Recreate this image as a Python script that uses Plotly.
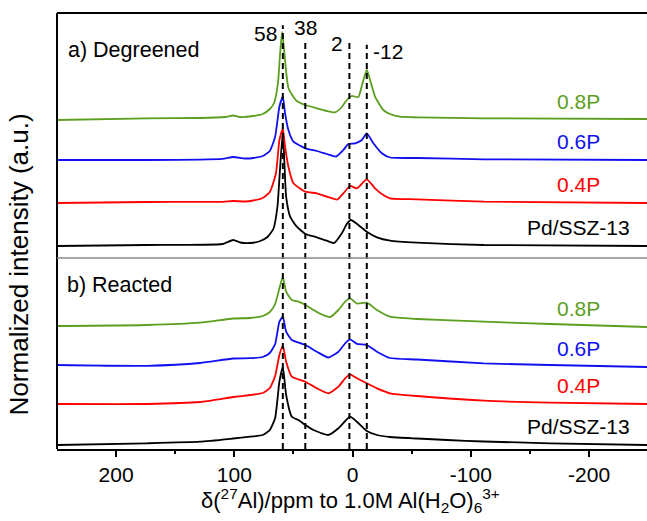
import plotly.graph_objects as go

# ---------------- data (ppm, normalized intensity above each trace baseline) ----------------
samples = ["0.8P", "0.6P", "0.4P", "Pd/SSZ-13"]
colors = ["#5c9e1e", "#1010f0", "#ff0000", "#000000"]

# a) Degreened
green_a_ppm = [250, 174, 129, 108, 101, 95, 84, 76, 70, 66.4, 63.1, 61.4, 59.6, 57.9, 56.2, 54.3, 51.1, 47.2, 39.9,
               30.3, 21.8, 14.8, 9.1, 4.9, 0.7, -4.9, -8.0, -12, -14.8, -19, -26, -31.7, -40, -54.5, -111, -249]
green_a_int = [0, 0.017, 0.02, 0.03, 0.045, 0.03, 0.04, 0.06, 0.11, 0.17, 0.37, 0.65, 0.88, 0.70, 0.48, 0.32, 0.25,
               0.19, 0.15, 0.117, 0.09, 0.077, 0.13, 0.2, 0.24, 0.23, 0.35, 0.5, 0.4, 0.233, 0.10, 0.06, 0.033, 0.027,
               0.017, 0.01]
blue_a_ppm = [250, 174, 110, 101, 91, 84, 76, 70, 65.5, 61.9, 59, 57.1, 54.3, 50, 39.9, 30.3, 21.8, 13.9, 7.8, 3.6,
              -2.1, -7.8, -12, -17.6, -24.7, -31.7, -54.5, -111, -249]
blue_a_int = [0, 0, 0.012, 0.03, 0.015, 0.02, 0.04, 0.09, 0.233, 0.533, 0.633, 0.467, 0.30, 0.183, 0.117, 0.09, 0.06,
              0.035, 0.10, 0.16, 0.167, 0.20, 0.267, 0.167, 0.067, 0.025, 0.02, 0.007, 0]
red_a_ppm = [250, 174, 110, 101, 91, 84, 76, 70, 64.8, 61.9, 59, 57.1, 54.3, 50, 39.9, 30.3, 21.8, 12.9, 7.8, 2.1,
             -3.6, -12, -19, -26, -31.7, -54.5, -111, -249]
red_a_int = [0, 0.01, 0.012, 0.02, 0.015, 0.025, 0.05, 0.11, 0.297, 0.63, 0.747, 0.563, 0.363, 0.197, 0.113, 0.097,
             0.063, 0.035, 0.097, 0.17, 0.147, 0.237, 0.147, 0.08, 0.047, 0.037, 0.013, 0]
black_a_ppm = [250, 174, 110, 101, 95, 86.6, 78, 72, 67, 63.5, 61.5, 59, 56.2, 52.8, 47.2, 39.9, 30.3, 21.8, 15.6,
               9.1, 4.9, 1.5, -4.9, -12, -20.6, -31.7, -54.5, -111, -249]
black_a_int = [0, 0.01, 0.02, 0.06, 0.035, 0.03, 0.05, 0.09, 0.17, 0.4, 0.75, 1.14, 0.493, 0.293, 0.193, 0.12, 0.087,
               0.053, 0.03, 0.127, 0.22, 0.26, 0.21, 0.143, 0.087, 0.053, 0.033, 0.01, 0]

# b) Reacted
green_b_ppm = [250, 174, 129, 101, 86.6, 76, 70, 65.5, 61.9, 59, 56.2, 51.4, 45.8, 39.9, 33.1, 26, 19, 12, 6.3, 2.1,
               -3.6, -12, -20.6, -31.7, -54.5, -111, -167, -249]
green_b_int = [0.01, 0.02, 0.043, 0.085, 0.09, 0.11, 0.15, 0.23, 0.387, 0.50, 0.353, 0.27, 0.253, 0.22, 0.17, 0.125,
               0.1, 0.17, 0.253, 0.287, 0.235, 0.243, 0.17, 0.103, 0.08, 0.053, 0.03, 0]
blue_b_ppm = [250, 174, 129, 101, 86.6, 76, 70, 65.5, 61.9, 59, 56.2, 51.4, 39.9, 30.3, 20.5, 12, 6.3, 2.1, -3.6, -12,
              -20.6, -31.7, -54.5, -111, -167, -249]
blue_b_int = [0.02, 0.012, 0.04, 0.085, 0.088, 0.1, 0.14, 0.23, 0.453, 0.503, 0.353, 0.27, 0.22, 0.153, 0.095,
              0.153, 0.237, 0.277, 0.232, 0.22, 0.153, 0.09, 0.075, 0.037, 0.02, 0]
red_b_ppm = [250, 174, 129, 101, 86.6, 76, 70, 65.5, 61.9, 59, 56.2, 51.4, 39.9, 30.3, 20.5, 12, 6.3, 2.1, -3.6, -12,
             -20.6, -31.7, -54.5, -111, -167, -249]
red_b_int = [0, 0, 0.02, 0.07, 0.09, 0.11, 0.16, 0.28, 0.49, 0.583, 0.423, 0.273, 0.223, 0.157, 0.107, 0.173, 0.257,
             0.297, 0.257, 0.207, 0.157, 0.107, 0.08, 0.033, 0.013, 0]
black_b_ppm = [250, 174, 129, 101, 86.6, 76, 70, 65.5, 61.9, 59, 56.2, 51.4, 45.8, 39.9, 33.1, 20.5, 12, 6.3, 2.1,
               -3.6, -12, -20.6, -31.7, -54.5, -80, -111, -167, -249]
black_b_int = [0, 0.017, 0.033, 0.065, 0.083, 0.1, 0.15, 0.27, 0.633, 0.78, 0.50, 0.283, 0.25, 0.20, 0.15, 0.10,
               0.167, 0.24, 0.283, 0.233, 0.14, 0.10, 0.08, 0.065, 0.05, 0.035, 0.017, 0]

offsets_a = [1.38, 0.98, 0.55, 0.12]
offsets_b = [1.22, 0.82, 0.45, 0.04]

peak_ppm = [59, 40, 2.7, -12]
peak_labels = ["58", "38", "2", "-12"]

x_tickvals = [200, 100, 0, -100, -200]

panel_a = [(green_a_ppm, green_a_int), (blue_a_ppm, blue_a_int), (red_a_ppm, red_a_int), (black_a_ppm, black_a_int)]
panel_b = [(green_b_ppm, green_b_int), (blue_b_ppm, blue_b_int), (red_b_ppm, red_b_int), (black_b_ppm, black_b_int)]

# ---------------- figure ----------------
FONT = "Liberation Sans, Arial, sans-serif"
W, H = 647, 521
ML, MR, MT, MB = 57, 0, 13, 72
split = 191 / 436.0

fig = go.Figure()
for yax, panel, offs in (("y", panel_a, offsets_a), ("y2", panel_b, offsets_b)):
    for i in [3, 2, 1, 0]:
        ppm, inten = panel[i]
        fig.add_trace(go.Scatter(
            x=ppm, y=[v + offs[i] for v in inten], xaxis="x", yaxis=yax, mode="lines",
            line=dict(color=colors[i], width=1.8, shape="spline", smoothing=0.5),
            showlegend=False, hoverinfo="skip"))

annotations = []
for yref, offs in (("y", offsets_a), ("y2", offsets_b)):
    for i, name in enumerate(samples):
        annotations.append(dict(x=-191, y=offs[i] + 0.19, xref="x", yref=yref, text=name, showarrow=False,
                                xanchor="center", yanchor="middle",
                                font=dict(family=FONT, size=21, color=colors[i])))

# peak labels
lab_pos = [(0.954, "right", -4), (0.966, "center", 0), (0.929, "right", -4), (0.911, "left", 4)]
for p, lab, (yy, anc, sh) in zip(peak_ppm, peak_labels, lab_pos):
    annotations.append(dict(x=p, y=yy, xref="x", yref="paper", text=lab, showarrow=False, xanchor=anc,
                            yanchor="middle", xshift=sh, font=dict(family=FONT, size=21, color="black")))

annotations += [
    dict(x=0.016, y=0.915, xref="paper", yref="paper", text="a) Degreened", showarrow=False, xanchor="left",
         yanchor="middle", font=dict(family=FONT, size=21.5, color="black")),
    dict(x=0.014, y=0.376, xref="paper", yref="paper", text="b) Reacted", showarrow=False, xanchor="left",
         yanchor="middle", font=dict(family=FONT, size=21.5, color="black")),
    dict(x=0.497, y=-0.117, xref="paper", yref="paper",
         text="δ(<sup>27</sup>Al)/ppm to 1.0M Al(H<sub>2</sub>O)<sub>6</sub><sup>3+</sup>", showarrow=False,
         xanchor="center", yanchor="middle", font=dict(family=FONT, size=22, color="black")),
    dict(x=-0.064, y=0.424, xref="paper", yref="paper", text="Normalized intensity (a.u.)", showarrow=False,
         textangle=-90, xanchor="center", yanchor="middle", font=dict(family=FONT, size=26, color="black")),
]

top_y = [0.972, 0.933, 0.931, 0.927]
shapes = []
for p, ty in zip(peak_ppm, top_y):
    shapes.append(dict(type="line", xref="x", yref="paper", x0=p, x1=p, y0=0, y1=ty,
                       line=dict(color="black", width=2, dash="6px,4px")))
shapes += [
    dict(type="line", xref="paper", yref="paper", x0=0, x1=1, y0=1, y1=1, line=dict(color="black", width=2)),
    dict(type="line", xref="paper", yref="paper", x0=0, x1=0, y0=0, y1=1, line=dict(color="black", width=2)),
    dict(type="line", xref="paper", yref="paper", x0=0, x1=1, y0=split, y1=split,
         line=dict(color="#888888", width=1.5)),
]

fig.update_layout(
    width=W, height=H, margin=dict(l=ML, r=MR, t=MT, b=MB),
    paper_bgcolor="white", plot_bgcolor="white",
    xaxis=dict(range=[250, -249], anchor="y2", domain=[0, 1], tickvals=x_tickvals,
               ticktext=[str(v) for v in x_tickvals], ticks="outside", ticklen=6, tickwidth=1.5,
               tickcolor="black", showline=True, linecolor="black", linewidth=2, showgrid=False, zeroline=False,
               tickfont=dict(family=FONT, size=21, color="black"),
               minor=dict(tickvals=[150, 50, -50, -150], ticks="outside", ticklen=3, tickwidth=1.5,
                          tickcolor="black")),
    yaxis=dict(domain=[split, 1], range=[0, 2.45], anchor="x", showticklabels=False, showgrid=False,
               zeroline=False, showline=False, ticks=""),
    yaxis2=dict(domain=[0, split], range=[0, 1.91], anchor="x", showticklabels=False, showgrid=False,
                zeroline=False, showline=False, ticks=""),
    annotations=annotations, shapes=shapes,
)

fig.write_html("out.html")
